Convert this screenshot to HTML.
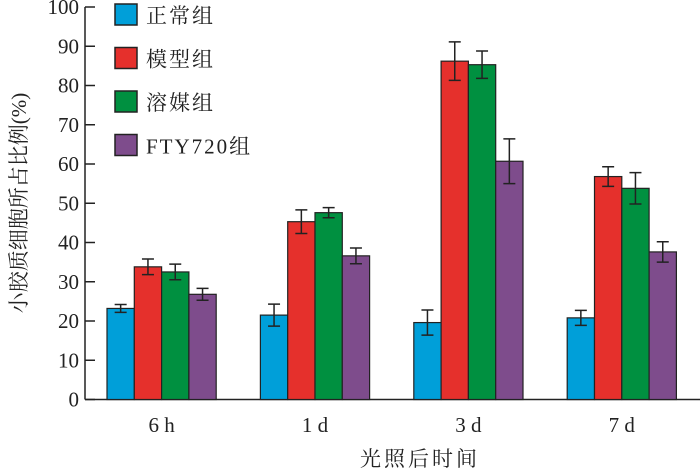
<!DOCTYPE html>
<html><head><meta charset="utf-8"><style>
body{margin:0;background:#fff}
text{font-family:"Liberation Serif","Noto Serif CJK SC",serif;fill:#222}
</style></head><body>
<svg id="chart" width="700" height="470" xmlns="http://www.w3.org/2000/svg">
<g id="axes"></g><g id="bars"></g><g id="legend"></g>
<text x="420" y="466" font-size="21" text-anchor="middle" letter-spacing="3">光照后时间</text>
<text transform="translate(26,203) rotate(-90)" font-size="21" text-anchor="middle">小胶质细胞所占比例(%)</text>
</svg>
<script>
const categories=["6 h","1 d","3 d","7 d"];
const seriesNames=["正常组","模型组","溶媒组","FTY720组"];
const colors=["#009fd9","#e5302c","#009040","#7e4c8c"];
const normal=[23.2,21.5,19.6,20.8];
const model=[33.8,45.3,86.2,56.8];
const vehicle=[32.5,47.6,85.3,53.8];
const fty=[26.8,36.6,60.7,37.6];
const normalErr=[1,2.8,3.2,1.9];
const modelErr=[2,3,4.9,2.5];
const vehicleErr=[2,1.3,3.5,4];
const fty720Err=[1.5,2,5.7,2.6];
const yTicks=[0,10,20,30,40,50,60,70,80,90,100];
const values=[normal,model,vehicle,fty];
const errs=[normalErr,modelErr,vehicleErr,fty720Err];
const NS="http://www.w3.org/2000/svg";
const y0=399.5,yScale=3.925;
const y=v=>y0-v*yScale;
const groupStart=i=>107+i*153.4;
const bw=27.3;
function mk(tag,attrs,parent){const e=document.createElementNS(NS,tag);for(const k in attrs)e.setAttribute(k,attrs[k]);parent.appendChild(e);return e;}
const axes=document.getElementById('axes');
let a=mk('line',{x1:85,y1:y(100),x2:85,y2:y0,stroke:'#222','stroke-width':1.5},axes);

a=mk('line',{x1:85,y1:y0,x2:700,y2:y0,stroke:'#222','stroke-width':1.5},axes);

yTicks.forEach(t=>{
 const l=mk('line',{x1:85,x2:95,y1:y(t),y2:y(t),stroke:'#222','stroke-width':1.5},axes);
 
 const tx=mk('text',{x:79,y:y(t)+7,'font-size':21,'text-anchor':'end'},axes);tx.textContent=t;
 
});
const bars=document.getElementById('bars');
categories.forEach((c,i)=>{
 const tx=mk('text',{x:groupStart(i)+2*bw,y:432,'font-size':21,'text-anchor':'middle'},axes);tx.textContent=c;
 
 values.forEach((s,j)=>{
  const x=groupStart(i)+j*bw,v=s[i],e=errs[j][i];
  const r=mk('rect',{x:x,y:y(v),width:bw,height:y0-y(v),fill:colors[j],stroke:'#222','stroke-width':1.2},bars);
  
  const cx=x+bw/2;
  const eb=mk('path',{d:`M${cx},${y(v+e)}V${y(v-e)}M${cx-6},${y(v+e)}H${cx+6}M${cx-6},${y(v-e)}H${cx+6}`,stroke:'#222','stroke-width':1.5,fill:'none'},bars);
  
 });
});
const lg=document.getElementById('legend');
seriesNames.forEach((n,j)=>{
 const yy=4+j*43.5;
 const r=mk('rect',{x:115,y:yy,width:22,height:21,fill:colors[j],stroke:'#222','stroke-width':1.5},lg);
 
 const t=mk('text',{x:146,y:yy+19,'font-size':21,'letter-spacing':2},lg);t.textContent=n;
 
});
</script>
</body></html>
